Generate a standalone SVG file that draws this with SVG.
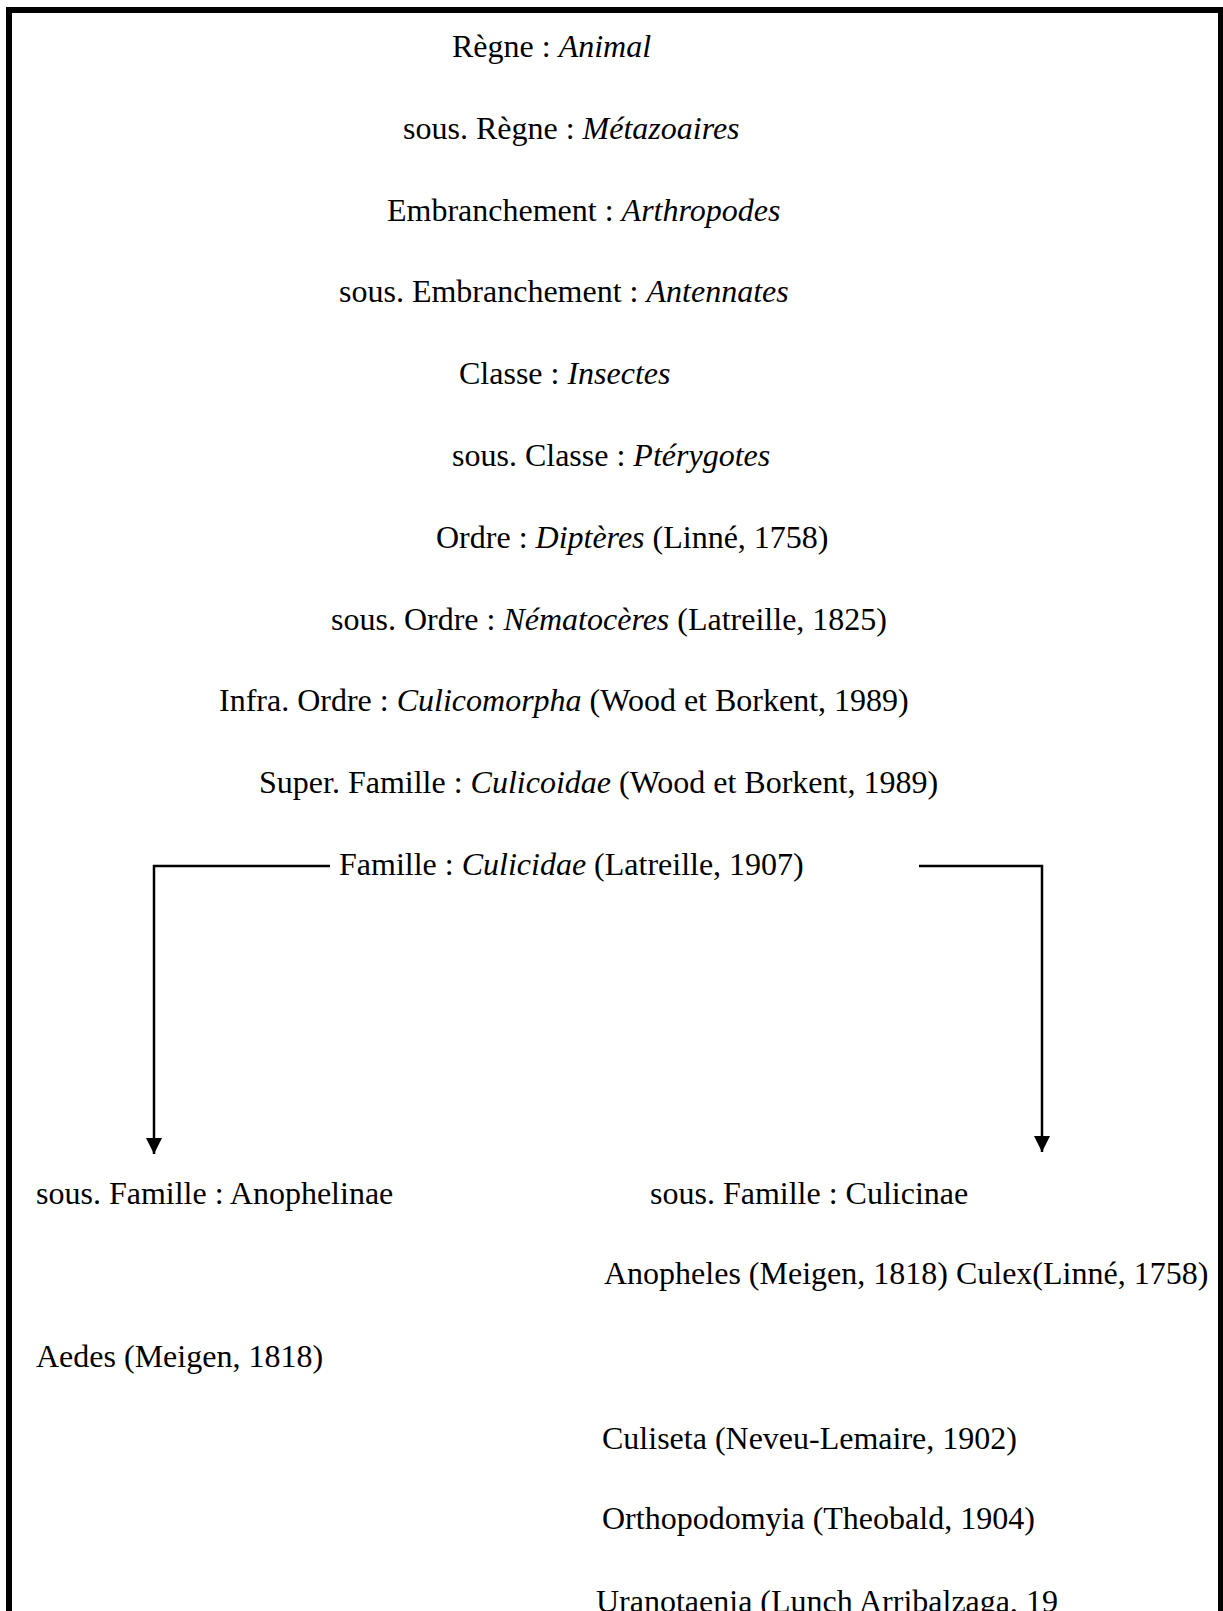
<svg xmlns="http://www.w3.org/2000/svg" width="1223" height="1611" viewBox="0 0 1223 1611">
<defs>
<style>
text{font-family:"Liberation Serif","Times New Roman",serif;font-size:32px;fill:#000}
.i{font-style:italic}
.c{fill:none;stroke:#000;stroke-width:2.5}
</style>
<marker id="ah" markerUnits="userSpaceOnUse" markerWidth="16" markerHeight="16" refX="16" refY="8" orient="auto">
<path d="M0,0 L16,8 L0,16 z" fill="#000"/>
</marker>
</defs>
<rect x="0" y="0" width="1223" height="1611" fill="#fff"/>
<rect id="frame" x="9" y="10" width="1212" height="1650" fill="none" stroke="#000" stroke-width="6"/>
<g id="n1"><text x="452" y="57">Règne : <tspan class="i">Animal</tspan></text></g>
<g id="n2"><text x="403" y="139">sous. Règne : <tspan class="i">Métazoaires</tspan></text></g>
<g id="n3"><text x="387" y="221">Embranchement : <tspan class="i">Arthropodes</tspan></text></g>
<g id="n4"><text x="339" y="302">sous. Embranchement : <tspan class="i">Antennates</tspan></text></g>
<g id="n5"><text x="459" y="384">Classe : <tspan class="i">Insectes</tspan></text></g>
<g id="n6"><text x="452" y="466">sous. Classe : <tspan class="i">Ptérygotes</tspan></text></g>
<g id="n7"><text x="436" y="548">Ordre : <tspan class="i">Diptères</tspan> (Linné, 1758)</text></g>
<g id="n8"><text x="331" y="630">sous. Ordre : <tspan class="i">Nématocères</tspan> (Latreille, 1825)</text></g>
<g id="n9"><text x="219" y="711">Infra. Ordre : <tspan class="i">Culicomorpha</tspan> (Wood et Borkent, 1989)</text></g>
<g id="n10"><text x="259" y="793">Super. Famille : <tspan class="i">Culicoidae</tspan> (Wood et Borkent, 1989)</text></g>
<g id="n11"><text x="339" y="875">Famille : <tspan class="i">Culicidae</tspan> (Latreille, 1907)</text></g>
<g id="n12"><text x="36" y="1204">sous. Famille : Anophelinae</text></g>
<g id="n13"><text x="650" y="1204">sous. Famille : Culicinae</text></g>
<g id="n14"><text x="604" y="1284">Anopheles (Meigen, 1818) Culex(Linné, 1758)</text></g>
<g id="n15"><text x="36" y="1367">Aedes (Meigen, 1818)</text></g>
<g id="n16"><text x="602" y="1449">Culiseta (Neveu-Lemaire, 1902)</text></g>
<g id="n17"><text x="602" y="1529">Orthopodomyia (Theobald, 1904)</text></g>
<g id="n18"><text x="596" y="1612">Uranotaenia (Lunch Arribalzaga, 19</text></g>
<g id="connectors">
<polyline class="c" points="330,866 154,866 154,1154" marker-end="url(#ah)"/>
<polyline class="c" points="919,866 1042,866 1042,1152" marker-end="url(#ah)"/>
</g>
</svg>
